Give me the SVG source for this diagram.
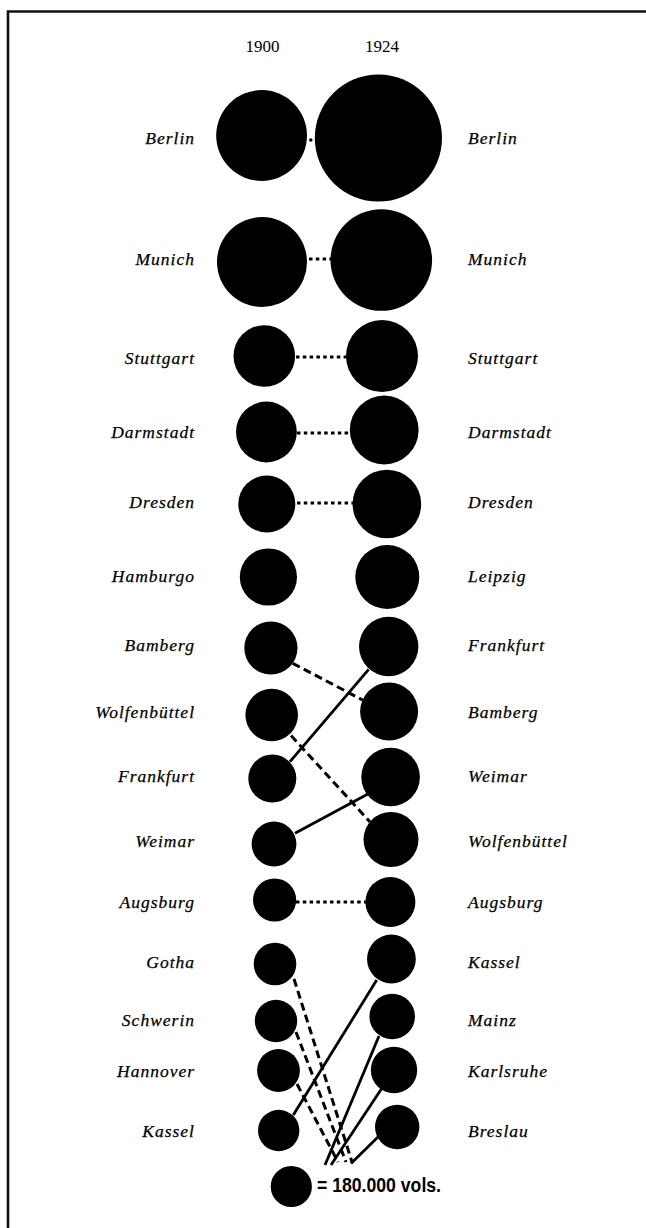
<svg xmlns="http://www.w3.org/2000/svg" width="646" height="1228" viewBox="0 0 646 1228">
<style>
.n{fill:#000}
.lbl{font-family:"Liberation Serif","DejaVu Serif",serif;font-style:italic;font-size:17.5px;letter-spacing:1px;fill:#000;stroke:#000;stroke-width:0.25}
.l{text-anchor:end}
.yr{font-family:"Liberation Serif","DejaVu Serif",serif;font-size:17px;text-anchor:middle;fill:#000}
.dot{stroke:#000;stroke-width:3;stroke-dasharray:3.5 3.3;fill:none}
.dash{stroke:#000;stroke-width:3;stroke-dasharray:8 4.5;fill:none}
.sol{stroke:#000;stroke-width:2.8;fill:none}
.frame{stroke:#111;stroke-width:2.6;fill:none}
.leg{font-family:"Liberation Sans Narrow","Liberation Sans",sans-serif;font-weight:bold;font-size:20px;fill:#000}
</style>
<rect width="646" height="1228" fill="#fff"/>
<path class="frame" d="M8,1228 V11.5 H646"/>
<text class="yr" x="262.4" y="52">1900</text>
<text class="yr" x="381.9" y="52">1924</text>
<g id="connectors">
<circle cx="310.8" cy="140" r="1.8" fill="#000"/>
<line class="dot" x1="309" y1="259" x2="331" y2="259"/>
<line class="dot" x1="296" y1="357" x2="347" y2="357"/>
<line class="dot" x1="297" y1="433" x2="350" y2="433"/>
<line class="dot" x1="297" y1="503" x2="353" y2="503"/>
<line class="dot" x1="296" y1="902" x2="366" y2="902"/>
<line class="dash" x1="292.7" y1="663.3" x2="362.6" y2="700"/>
<line class="sol" x1="290" y1="761.7" x2="368.7" y2="669.3"/>
<line class="dash" x1="291" y1="735.5" x2="370" y2="822"/>
<line class="sol" x1="295" y1="833.3" x2="367.9" y2="794"/>
<line class="dash" x1="294" y1="979" x2="352" y2="1162"/>
<line class="dash" x1="296" y1="1032" x2="346" y2="1162"/>
<line class="dash" x1="297" y1="1084" x2="338" y2="1162"/>
<line class="sol" x1="293.3" y1="1115" x2="376.7" y2="980"/>
<line class="sol" x1="379" y1="1036" x2="325" y2="1165"/>
<line class="sol" x1="382" y1="1088" x2="331" y2="1165"/>
<line class="sol" x1="378" y1="1137" x2="351" y2="1163.5"/>
</g>
<g id="n1900-berlin"><circle class="n" cx="261.6" cy="135.5" r="45.4"/><text class="lbl l" x="195" y="144">Berlin</text></g>
<g id="n1924-berlin"><circle class="n" cx="378.4" cy="138" r="63.6"/><text class="lbl" x="468" y="144">Berlin</text></g>
<g id="n1900-munich"><circle class="n" cx="262" cy="262" r="45"/><text class="lbl l" x="195" y="265">Munich</text></g>
<g id="n1924-munich"><circle class="n" cx="381.3" cy="260" r="50.8"/><text class="lbl" x="468" y="265">Munich</text></g>
<g id="n1900-stuttgart"><circle class="n" cx="264.3" cy="356" r="30.8"/><text class="lbl l" x="195" y="364">Stuttgart</text></g>
<g id="n1924-stuttgart"><circle class="n" cx="382" cy="356" r="36"/><text class="lbl" x="468" y="364">Stuttgart</text></g>
<g id="n1900-darmstadt"><circle class="n" cx="266.4" cy="432" r="30.4"/><text class="lbl l" x="195" y="438">Darmstadt</text></g>
<g id="n1924-darmstadt"><circle class="n" cx="384.2" cy="430" r="34.4"/><text class="lbl" x="468" y="438">Darmstadt</text></g>
<g id="n1900-dresden"><circle class="n" cx="266.8" cy="504" r="28.5"/><text class="lbl l" x="195" y="508">Dresden</text></g>
<g id="n1924-dresden"><circle class="n" cx="386.9" cy="504" r="34.3"/><text class="lbl" x="468" y="508">Dresden</text></g>
<g id="n1900-hamburgo"><circle class="n" cx="268.4" cy="577" r="28.6"/><text class="lbl l" x="195" y="582">Hamburgo</text></g>
<g id="n1924-leipzig"><circle class="n" cx="387.3" cy="577" r="32"/><text class="lbl" x="468" y="582">Leipzig</text></g>
<g id="n1900-bamberg"><circle class="n" cx="270.9" cy="648" r="26.6"/><text class="lbl l" x="195" y="651">Bamberg</text></g>
<g id="n1924-frankfurt"><circle class="n" cx="388.7" cy="646.5" r="29.7"/><text class="lbl" x="468" y="651">Frankfurt</text></g>
<g id="n1900-wolfenbuettel"><circle class="n" cx="271.7" cy="715" r="26.3"/><text class="lbl l" x="195" y="718">Wolfenbüttel</text></g>
<g id="n1924-bamberg"><circle class="n" cx="389.1" cy="711.5" r="29"/><text class="lbl" x="468" y="718">Bamberg</text></g>
<g id="n1900-frankfurt"><circle class="n" cx="272.3" cy="778.5" r="24"/><text class="lbl l" x="195" y="782">Frankfurt</text></g>
<g id="n1924-weimar"><circle class="n" cx="390.6" cy="777" r="29.3"/><text class="lbl" x="468" y="782">Weimar</text></g>
<g id="n1900-weimar"><circle class="n" cx="274" cy="844" r="22.4"/><text class="lbl l" x="195" y="847">Weimar</text></g>
<g id="n1924-wolfenbuettel"><circle class="n" cx="391" cy="839.5" r="27.5"/><text class="lbl" x="468" y="847">Wolfenbüttel</text></g>
<g id="n1900-augsburg"><circle class="n" cx="274.6" cy="900" r="21.6"/><text class="lbl l" x="195" y="908">Augsburg</text></g>
<g id="n1924-augsburg"><circle class="n" cx="390.4" cy="902" r="25"/><text class="lbl" x="468" y="908">Augsburg</text></g>
<g id="n1900-gotha"><circle class="n" cx="275" cy="964" r="21.3"/><text class="lbl l" x="195" y="968">Gotha</text></g>
<g id="n1924-kassel"><circle class="n" cx="391.4" cy="959" r="24.4"/><text class="lbl" x="468" y="968">Kassel</text></g>
<g id="n1900-schwerin"><circle class="n" cx="276" cy="1021" r="21.2"/><text class="lbl l" x="195" y="1026">Schwerin</text></g>
<g id="n1924-mainz"><circle class="n" cx="392.2" cy="1016.5" r="22.8"/><text class="lbl" x="468" y="1026">Mainz</text></g>
<g id="n1900-hannover"><circle class="n" cx="278.5" cy="1070.5" r="21.4"/><text class="lbl l" x="195" y="1077">Hannover</text></g>
<g id="n1924-karlsruhe"><circle class="n" cx="394" cy="1070" r="23.2"/><text class="lbl" x="468" y="1077">Karlsruhe</text></g>
<g id="n1900-kassel"><circle class="n" cx="278.7" cy="1130.5" r="20.7"/><text class="lbl l" x="195" y="1137">Kassel</text></g>
<g id="n1924-breslau"><circle class="n" cx="397.2" cy="1127" r="22.2"/><text class="lbl" x="468" y="1137">Breslau</text></g>
<g id="legend"><circle class="n" cx="291.3" cy="1186.5" r="20.6"/><text class="leg" x="317" y="1192" textLength="124" lengthAdjust="spacingAndGlyphs">= 180.000 vols.</text></g>
</svg>
